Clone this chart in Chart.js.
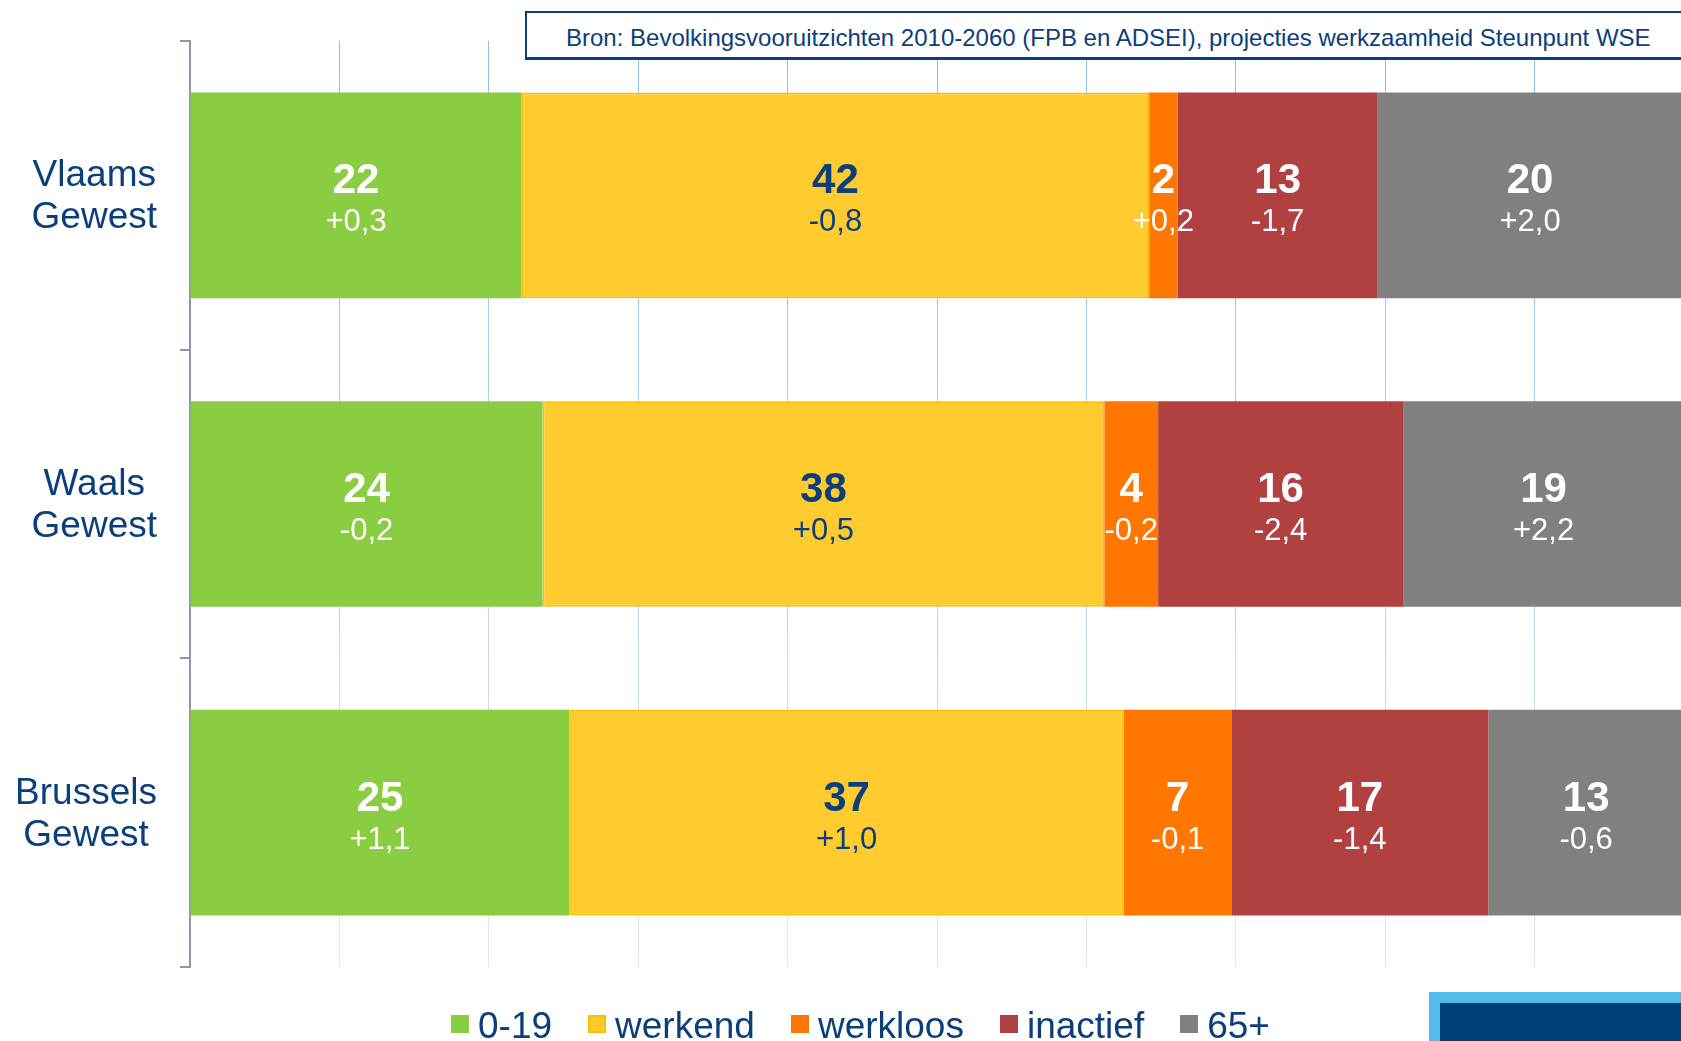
<!DOCTYPE html>
<html>
<head>
<meta charset="utf-8">
<title>Bevolking naar positie per gewest</title>
<script src="https://cdn.jsdelivr.net/npm/chart.js@4.4.1/dist/chart.umd.min.js"></script>
<style>
    html, body { margin: 0; padding: 0; background: #fff; overflow: hidden; }
    #wrap { position: relative; width: 1681px; height: 1041px; overflow: hidden;
            font-family: "Liberation Sans", Arial, sans-serif; }
    #chart { position: absolute; left: 0; top: 0; }
    .source { position: absolute; left: 525px; top: 11px; width: 1250px; height: 49px;
              box-sizing: border-box; border: 2px solid #0B3F7C; border-bottom-width: 3px;
              background: #fff; color: #0B3F7C; font-size: 24px; line-height: 38px;
              padding: 6px 0 0 39px; white-space: nowrap; }
    #legend { position: absolute; left: 451px; top: 1007px; display: flex; gap: 36px;
              color: #0B3F7C; font-size: 37px; line-height: 37px; white-space: nowrap; }
    #legend .item { display: flex; align-items: flex-start; }
    #legend .box { width: 18px; height: 18px; margin: 8px 9px 0 0; box-sizing: border-box; }
    .logo { position: absolute; left: 1429px; top: 992px; width: 300px; height: 100px;
            box-sizing: border-box; border: 11px solid #55BBEA; background: #003F7A;
            overflow: hidden; }
    .logo span { position: absolute; left: 28px; top: 32px; color: #fff; font-weight: bold;
                 font-size: 44px; line-height: 44px; }
</style>
</head>
<body>
<div id="wrap">
    <canvas id="chart" width="1700" height="1041"></canvas>
    <div class="source">Bron: Bevolkingsvooruitzichten 2010-2060 (FPB en ADSEI), projecties werkzaamheid Steunpunt WSE</div>
    <div id="legend"></div>
    <div class="logo"><span>KU LEUVEN</span></div>
</div>
<script>
// regions (top to bottom)
const regions = [['Vlaams', 'Gewest'], ['Waals', 'Gewest'], ['Brussels', 'Gewest']];

// share of population (%)
const age0_19 = [22.2, 23.6, 25.4];
const werkend = [42.0, 37.6, 37.1];
const werkloos = [1.9, 3.6, 7.2];
const inactief = [13.4, 16.4, 17.2];
const age65plus = [20.4, 18.8, 13.1];

// change in percentage points
const chg0_19 = [0.3, -0.2, 1.1];
const chgWerkend = [-0.8, 0.5, 1.0];
const chgWerkloos = [0.2, -0.2, -0.1];
const chgInactief = [-1.7, -2.4, -1.4];
const chg65plus = [2.0, 2.2, -0.6];

const FONT = '"Liberation Sans", Arial, sans-serif';
const DARK_BLUE = '#0B3F7C';

function formatChange(v) {
    const sign = v > 0 ? '+' : (v < 0 ? '-' : '');
    return sign + Math.abs(v).toFixed(1).replace('.', ',');
}

function gridGradient(chart) {
    const area = chart.chartArea;
    if (!area) return '#C3DAEC';
    const g = chart.ctx.createLinearGradient(0, area.top, 0, area.bottom);
    g.addColorStop(0, '#8CC0E2');
    g.addColorStop(1, '#DCE8F2');
    return g;
}

// value + change inside each segment
const segmentLabels = {
    id: 'segmentLabels',
    afterDatasetsDraw(chart) {
        const ctx = chart.ctx;
        ctx.save();
        ctx.textAlign = 'center';
        ctx.textBaseline = 'alphabetic';
        chart.data.datasets.forEach((ds, di) => {
            const meta = chart.getDatasetMeta(di);
            ctx.fillStyle = ds.labelColor;
            meta.data.forEach((bar, i) => {
                const cx = (bar.x + bar.base) / 2;
                const cy = bar.y;
                ctx.font = 'bold 42px ' + FONT;
                ctx.fillText(String(Math.round(ds.data[i])), cx, cy - 2);
                ctx.font = '31px ' + FONT;
                ctx.fillText(formatChange(ds.changes[i]), cx, cy + 36);
            });
        });
        ctx.restore();
    }
};

// two-line region names, lines centred inside a right-aligned block
const regionLabels = {
    id: 'regionLabels',
    afterDraw(chart) {
        const ctx = chart.ctx;
        const yScale = chart.scales.y;
        ctx.save();
        ctx.font = '37px ' + FONT;
        ctx.fillStyle = DARK_BLUE;
        ctx.textAlign = 'center';
        ctx.textBaseline = 'alphabetic';
        chart.data.labels.forEach((lines, i) => {
            const cy = yScale.getPixelForValue(i);
            const w = Math.max(...lines.map(l => ctx.measureText(l).width));
            const cx = 157 - w / 2;
            ctx.fillText(lines[0], cx, cy - 9);
            ctx.fillText(lines[1], cx, cy + 33);
        });
        ctx.restore();
    }
};

const chart = new Chart(document.getElementById('chart'), {
    type: 'bar',
    data: {
        labels: regions,
        datasets: [
            { label: '0-19', data: age0_19, changes: chg0_19, backgroundColor: '#8ACC42', labelColor: '#fff' },
            { label: 'werkend', data: werkend, changes: chgWerkend, backgroundColor: '#FFCB2F',
              borderColor: '#FFBE00', borderWidth: 2, borderSkipped: false, labelColor: DARK_BLUE },
            { label: 'werkloos', data: werkloos, changes: chgWerkloos, backgroundColor: '#FF7600', labelColor: '#fff' },
            { label: 'inactief', data: inactief, changes: chgInactief, backgroundColor: '#B14141', labelColor: '#fff' },
            { label: '65+', data: age65plus, changes: chg65plus, backgroundColor: '#808080', labelColor: '#fff' }
        ]
    },
    options: {
        indexAxis: 'y',
        responsive: false,
        animation: false,
        events: [],
        categoryPercentage: 1,
        barPercentage: 0.6665,
        layout: { padding: { top: 41, bottom: 74, left: 0, right: 16 } },
        scales: {
            x: {
                stacked: true,
                min: 0,
                max: 100,
                ticks: { display: false, stepSize: 10 },
                grid: { color: c => gridGradient(c.chart), lineWidth: 1, drawTicks: false },
                border: { display: false },
                afterFit: s => { s.height = 0; }
            },
            y: {
                stacked: true,
                ticks: { display: false },
                grid: { offset: true, drawOnChartArea: false, drawTicks: true, tickLength: 10,
                        color: '#8D98B0', lineWidth: 2 },
                border: { display: true, color: '#8D98B0', width: 2 },
                afterFit: s => { s.width = 190; }
            }
        },
        plugins: {
            legend: { display: false },
            tooltip: { enabled: false }
        }
    },
    plugins: [segmentLabels, regionLabels]
});

// legend built from the datasets
const legend = document.getElementById('legend');
chart.data.datasets.forEach(ds => {
    const item = document.createElement('div');
    item.className = 'item';
    const box = document.createElement('span');
    box.className = 'box';
    box.style.background = ds.backgroundColor;
    if (ds.borderWidth) box.style.border = ds.borderWidth + 'px solid ' + ds.borderColor;
    const text = document.createElement('span');
    text.textContent = ds.label;
    item.appendChild(box);
    item.appendChild(text);
    legend.appendChild(item);
});
</script>
</body>
</html>
